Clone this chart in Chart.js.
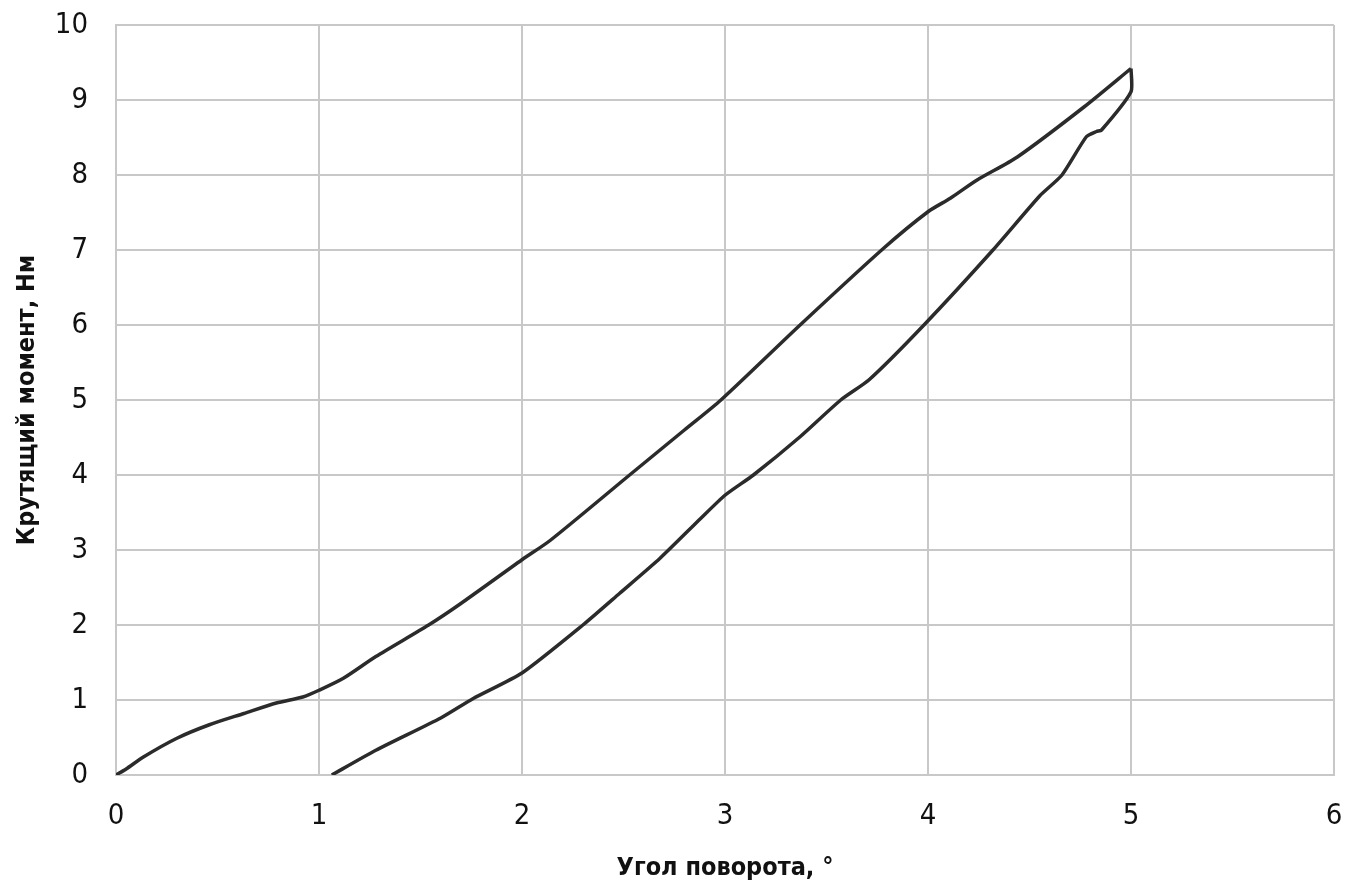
<!DOCTYPE html>
<html>
<head>
<meta charset="utf-8">
<script src="https://cdn.jsdelivr.net/npm/chart.js@4"></script>
<style>
  body { margin: 0; background: #fff; }
  .wrap { width: 1360px; height: 891px; position: relative; }
</style>
</head>
<body>
<div class="wrap"><canvas id="myChart"></canvas></div>
<script>
// loading branch (angle, torque)
const loadAngle = [0, 0.05, 0.135, 0.3, 0.46, 0.63, 0.79, 0.92, 1.0, 1.12, 1.28, 1.54, 1.69, 2.0, 2.14, 2.53, 2.8, 2.98, 3.37, 3.78, 4.0, 4.11, 4.24, 4.44, 4.77, 5.0];
const loadTorque = [0, 0.08, 0.24, 0.49, 0.67, 0.82, 0.96, 1.04, 1.13, 1.29, 1.58, 2.0, 2.27, 2.87, 3.13, 4.0, 4.6, 5.0, 6.0, 7.02, 7.51, 7.69, 7.93, 8.24, 8.91, 9.42];

// unloading branch
const unloadAngle = [5.0, 5.0, 4.855, 4.83, 4.78, 4.66, 4.55, 4.32, 3.98, 3.71, 3.57, 3.37, 3.14, 3.0, 2.88, 2.68, 2.48, 2.3, 2.0, 1.76, 1.6, 1.28, 1.063];
const unloadTorque = [9.42, 9.11, 8.6, 8.58, 8.51, 8.0, 7.72, 7.0, 6.0, 5.27, 5.0, 4.51, 4.0, 3.73, 3.42, 2.89, 2.42, 2.0, 1.36, 1.02, 0.76, 0.33, 0];

const xTicks = [0, 1, 2, 3, 4, 5, 6];
const yTicks = [0, 1, 2, 3, 4, 5, 6, 7, 8, 9, 10];

const fontFamily = "'Liberation Sans Narrow', 'DejaVu Sans Condensed', 'DejaVu Sans', sans-serif";
const gridColor = "#c8c8c8";
const lineColor = "#2b2b2b";

const toPoints = (xs, ys) => xs.map((a, i) => ({ x: a, y: ys[i] }));

const ctx = document.getElementById("myChart").getContext("2d");

window.myChart = new Chart(ctx, {
  type: "scatter",
  data: {
    datasets: [
      {
        label: "нагрузка",
        data: toPoints(loadAngle, loadTorque),
        showLine: true,
        borderColor: lineColor,
        borderWidth: 3.5,
        pointRadius: 0,
        tension: 0.25,
      },
      {
        label: "разгрузка",
        data: toPoints(unloadAngle, unloadTorque),
        showLine: true,
        borderColor: lineColor,
        borderWidth: 3.5,
        pointRadius: 0,
        tension: 0.2,
      },
    ],
  },
  options: {
    responsive: true,
    maintainAspectRatio: false,
    animation: false,
    layout: {
      padding: { top: 25, right: 26, left: 0, bottom: 0 },
    },
    plugins: {
      legend: { display: false },
      tooltip: { enabled: false },
    },
    scales: {
      x: {
        type: "linear",
        min: xTicks[0],
        max: xTicks[xTicks.length - 1],
        afterFit: (scale) => {
          scale.height = 116;
          scale.paddingLeft = 0;
          scale.paddingRight = 0;
        },
        grid: { color: gridColor, lineWidth: 2, drawTicks: false },
        border: { color: gridColor, width: 2 },
        ticks: {
          stepSize: 1,
          padding: 24,
          color: "#111",
          font: { family: fontFamily, size: 29 },
        },
        title: {
          display: true,
          text: "Угол поворота, °",
          color: "#111",
          font: { family: fontFamily, size: 25, weight: "bold" },
          padding: { top: 0, bottom: 8 },
        },
      },
      y: {
        min: yTicks[0],
        max: yTicks[yTicks.length - 1],
        afterFit: (scale) => {
          scale.width = 116;
          scale.paddingTop = 0;
          scale.paddingBottom = 0;
        },
        grid: { color: gridColor, lineWidth: 2, drawTicks: false },
        border: { color: gridColor, width: 2 },
        ticks: {
          stepSize: 1,
          padding: 28,
          color: "#111",
          font: { family: fontFamily, size: 29 },
        },
        title: {
          display: true,
          text: "Крутящий момент, Нм",
          color: "#111",
          font: { family: fontFamily, size: 25, weight: "bold" },
          padding: { top: 12, bottom: 0 },
        },
      },
    },
  },
});
</script>
</body>
</html>
